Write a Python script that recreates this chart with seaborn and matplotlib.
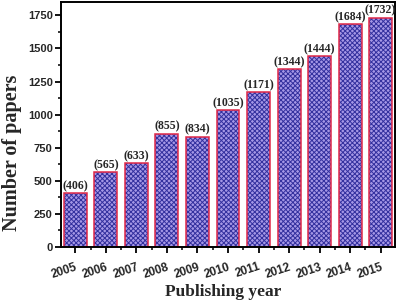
import matplotlib
matplotlib.use("Agg")
import matplotlib.pyplot as plt
from matplotlib.ticker import MultipleLocator, FixedLocator
import seaborn as sns
import pandas as pd

years = ["2005", "2006", "2007", "2008", "2009", "2010",
         "2011", "2012", "2013", "2014", "2015"]
papers = [406, 565, 633, 855, 834, 1035, 1171, 1344, 1444, 1684, 1732]

df = pd.DataFrame({"year": years, "papers": papers})

sns.set_theme(style="ticks")
plt.rcParams["hatch.linewidth"] = 0.7

fig = plt.figure(figsize=(4, 3.02), dpi=100)
ax = fig.add_axes([0.1525, 0.182, 0.835, 0.811])

# hatched fill
sns.barplot(data=df, x="year", y="papers", color="#a597e6", width=0.75,
            saturation=1, ax=ax)
for p in ax.patches:
    p.set_hatch("xxxxxxx")
    p.set_edgecolor("#33309e")
    p.set_linewidth(0)

# red outline
sns.barplot(data=df, x="year", y="papers", fill=False, width=0.75,
            edgecolor="#e02848", linewidth=1.1, ax=ax)

for x, v in enumerate(papers):
    ax.text(x, v + 8, f"({v})", ha="center", va="bottom", fontsize=8.5,
            fontweight="bold", family="Liberation Serif")

ax.set_xlim(-0.47, 10.47)
ax.set_ylim(0, 1850)
ax.yaxis.set_major_locator(MultipleLocator(250))
ax.yaxis.set_minor_locator(MultipleLocator(125))
ax.xaxis.set_minor_locator(FixedLocator([i + 0.5 for i in range(-1, 11)]))

ax.tick_params(axis="both", which="major", direction="out", length=4,
               width=1.3, color="black")
ax.tick_params(axis="both", which="minor", direction="out", length=2.5,
               width=1.1, color="black")
ax.tick_params(axis="y", pad=2)
ax.tick_params(axis="x", pad=6)

for lab in ax.get_yticklabels():
    lab.set_fontsize(8)
    lab.set_fontweight("bold")
    lab.set_family("Liberation Sans")
for lab in ax.get_xticklabels():
    lab.set_fontsize(8.5)
    lab.set_fontweight("bold")
    lab.set_family("Liberation Sans")
    lab.set_rotation(18)
    lab.set_ha("right")
    lab.set_rotation_mode("anchor")

for s in ax.spines.values():
    s.set_visible(True)
    s.set_linewidth(1.4)
    s.set_color("black")

ax.set_xlabel("Publishing year", fontsize=12.5, fontweight="bold",
              family="Liberation Serif")
ax.set_ylabel("Number of papers", fontsize=14.5, fontweight="bold",
              family="Liberation Serif")
ax.yaxis.set_label_coords(-0.118, 0.385)
ax.xaxis.set_label_coords(0.485, -0.15)

fig.savefig("out.png", dpi=100)
